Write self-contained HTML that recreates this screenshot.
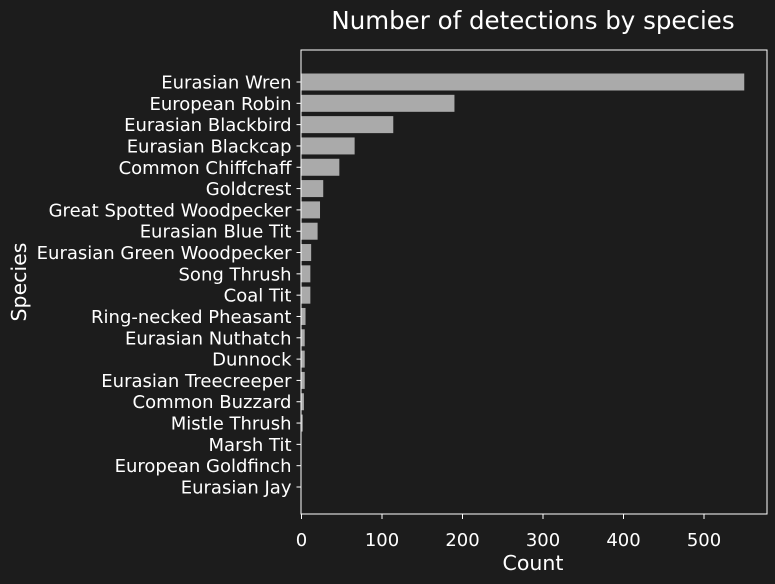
<!DOCTYPE html>
<html><head><meta charset="utf-8"><style>
html,body{margin:0;padding:0;background:#1c1c1c;}
svg{display:block;font-family:"DejaVu Sans","Liberation Sans",sans-serif;}
</style></head><body>
<svg id="chart" width="775" height="584">
<rect width="775" height="584" fill="#1c1c1c"/>
<text x="533" y="29" fill="#ffffff" font-size="24.5" text-anchor="middle">Number of detections by species</text>
<rect x="301" y="50" width="466" height="464" fill="none" stroke="#ffffff" stroke-width="1"/>
<g id="bars"></g>
<g id="yticks"></g>
<g id="xticks"></g>
<text x="533" y="570" fill="#ffffff" font-size="20.5" text-anchor="middle">Count</text>
<text x="0" y="0" transform="translate(26,282) rotate(-90)" fill="#ffffff" font-size="20.5" text-anchor="middle">Species</text>
</svg>
<script>
const categories=["Eurasian Wren","European Robin","Eurasian Blackbird","Eurasian Blackcap","Common Chiffchaff","Goldcrest","Great Spotted Woodpecker","Eurasian Blue Tit","Eurasian Green Woodpecker","Song Thrush","Coal Tit","Ring-necked Pheasant","Eurasian Nuthatch","Dunnock","Eurasian Treecreeper","Common Buzzard","Mistle Thrush","Marsh Tit","European Goldfinch","Eurasian Jay"];
const counts=[550,190,114,66,47,27,23,20,12,11,11,5,4,4,4,3,1.5,0,0,0];
const xTicks=[0,100,200,300,400,500];
const NS="http://www.w3.org/2000/svg";
const x0=301.5,xScale=(704-301.5)/500;
function xPos(v){return x0+v*xScale;}
function yPos(i){return 82+i*((487-82)/19);}
const bh=17;
const bars=document.getElementById('bars'),yt=document.getElementById('yticks'),xt=document.getElementById('xticks');
categories.forEach((c,i)=>{
  const y=yPos(i);
  const r=document.createElementNS(NS,'rect');
  r.setAttribute('x',x0);r.setAttribute('y',y-bh/2);
  r.setAttribute('width',Math.max(0,xPos(counts[i])-x0));r.setAttribute('height',bh);
  r.setAttribute('fill','#aaaaaa');
  
  
  bars.appendChild(r);
  const l=document.createElementNS(NS,'line');
  l.setAttribute('x1',x0-5);l.setAttribute('x2',x0);l.setAttribute('y1',y);l.setAttribute('y2',y);
  l.setAttribute('stroke','#fff');
  
  
  yt.appendChild(l);
  const t=document.createElementNS(NS,'text');
  t.setAttribute('x',x0-10);t.setAttribute('y',y+6.5);t.setAttribute('fill','#fff');
  t.setAttribute('font-size','18');t.setAttribute('text-anchor','end');
  t.textContent=c;
  
  
  yt.appendChild(t);
});
xTicks.forEach(v=>{
  const x=xPos(v);
  const l=document.createElementNS(NS,'line');
  l.setAttribute('x1',x);l.setAttribute('x2',x);l.setAttribute('y1',514);l.setAttribute('y2',519);
  l.setAttribute('stroke','#fff');
  
  
  xt.appendChild(l);
  const t=document.createElementNS(NS,'text');
  t.setAttribute('x',x);t.setAttribute('y',546);t.setAttribute('fill','#fff');
  t.setAttribute('font-size','18');t.setAttribute('text-anchor','middle');
  t.textContent=v;
  
  
  xt.appendChild(t);
});
</script>
</body></html>
